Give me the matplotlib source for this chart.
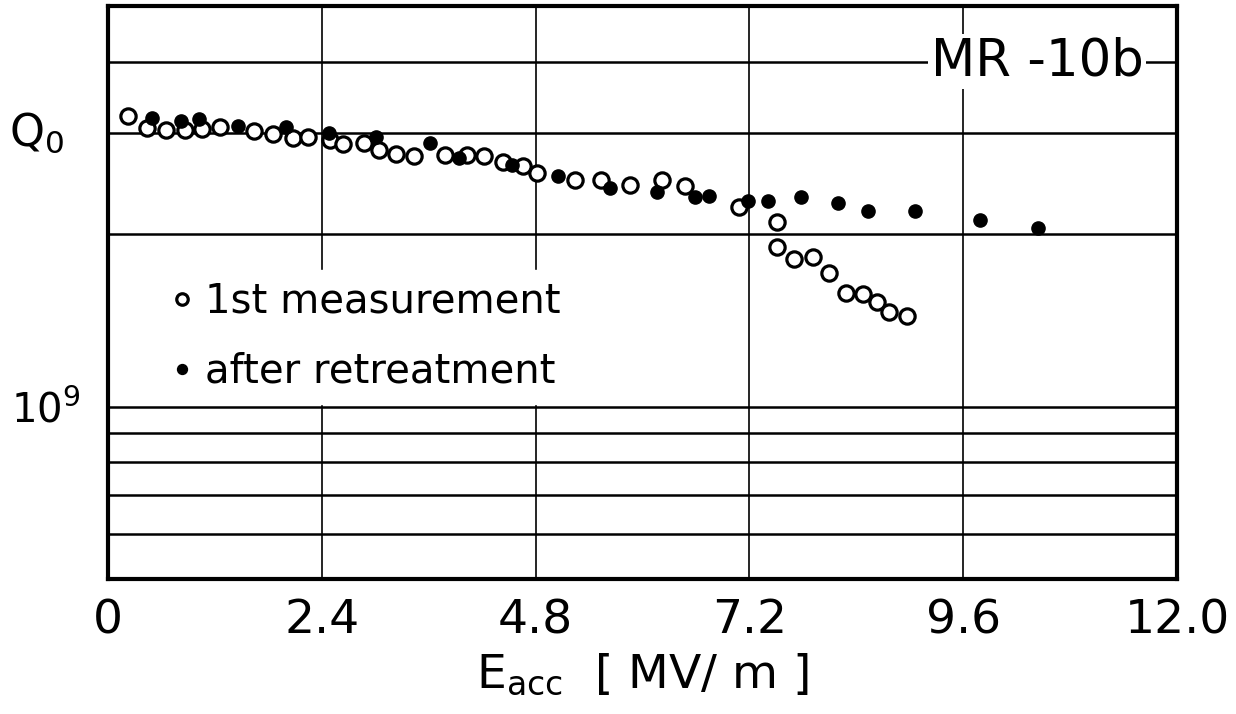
import matplotlib
matplotlib.use("Agg")
import matplotlib.pyplot as plt
import matplotlib.transforms as mtransforms

# ---- data: E_acc [MV/m] and Q0 ----
first_E = [0.22, 0.44, 0.65, 0.86, 1.06, 1.26, 1.64, 1.85, 2.08, 2.25,
           2.49, 2.64, 2.87, 3.04, 3.23, 3.43, 3.78, 4.03, 4.22, 4.43,
           4.66, 4.82, 5.24, 5.53, 5.86, 6.22, 6.48, 7.08, 7.51, 7.51,
           7.70, 7.91, 8.09, 8.28, 8.47, 8.63, 8.77, 8.97]
first_Q = [3.21e9, 3.06e9, 3.04e9, 3.04e9, 3.05e9, 3.07e9, 3.03e9, 2.99e9, 2.94e9, 2.95e9,
           2.92e9, 2.87e9, 2.88e9, 2.80e9, 2.76e9, 2.74e9, 2.75e9, 2.75e9, 2.74e9, 2.67e9,
           2.63e9, 2.56e9, 2.48e9, 2.48e9, 2.44e9, 2.48e9, 2.43e9, 2.23e9, 2.10e9, 1.90e9,
           1.81e9, 1.82e9, 1.71e9, 1.58e9, 1.57e9, 1.52e9, 1.46e9, 1.44e9]

retreat_E = [0.49, 0.82, 1.02, 1.46, 2.00, 2.48, 3.01, 3.61, 3.94, 4.53,
             5.05, 5.64, 6.16, 6.59, 6.75, 7.18, 7.41, 7.78, 8.19, 8.53,
             9.06, 9.79, 10.44]
retreat_Q = [3.19e9, 3.15e9, 3.18e9, 3.09e9, 3.07e9, 3.00e9, 2.95e9, 2.88e9, 2.71e9, 2.64e9,
             2.53e9, 2.41e9, 2.37e9, 2.32e9, 2.33e9, 2.28e9, 2.28e9, 2.32e9, 2.27e9, 2.19e9,
             2.19e9, 2.12e9, 2.05e9]

x_ticks = [0, 2.4, 4.8, 7.2, 9.6, 12.0]
x_labels = ["0", "2.4", "4.8", "7.2", "9.6", "12.0"]
y_grid = [6e8, 7e8, 8e8, 9e8, 1e9, 2e9, 3e9, 4e9]
y_labels = ["", "", "", "", "$10^9$", "", "", ""]

plt.rcParams["font.family"] = ["DejaVu Sans"]
plt.rcParams["mathtext.fontset"] = "dejavusans"

fig = plt.figure(figsize=(12.36, 7.14), dpi=100)
ax = fig.add_axes([108 / 1236, 1 - 579 / 714, (1177 - 108) / 1236, (579 - 6) / 714])

ax.set_yscale("log")
ax.set_xlim(0, 12.0)
ax.set_ylim(5e8, 5e9)
ax.minorticks_off()
ax.set_xticks(x_ticks)
ax.set_xticklabels(x_labels, fontsize=34)
ax.set_yticks(y_grid)
ax.set_yticklabels(y_labels, fontsize=29)
ax.tick_params(length=0, pad=14)
ax.tick_params(axis="y", pad=20)

ax.grid(axis="y", color="black", linewidth=1.8)
ax.grid(axis="x", color="black", linewidth=1.2)
ax.set_axisbelow(True)
for s in ax.spines.values():
    s.set_linewidth(3)

ax.plot(first_E, first_Q, "o", ms=11, mfc="white", mec="black", mew=2.3,
        label="1st measurement", zorder=3)
ax.plot(retreat_E, retreat_Q, "o", ms=9.5, mfc="black", mec="black",
        label="after retreatment", zorder=4)

leg = ax.legend(loc="upper left", bbox_to_anchor=(0.03, 0.575), fontsize=29,
                markerscale=0.75, handlelength=0.5, handletextpad=0.3,
                labelspacing=0.75, borderpad=0.3, frameon=True, fancybox=False)
leg.get_frame().set_edgecolor("white")
leg.get_frame().set_facecolor("white")
leg.get_frame().set_alpha(1)

ax.text(0.869, 4e9, "MR -10b", fontsize=37, ha="center", va="center",
        transform=mtransforms.blended_transform_factory(ax.transAxes, ax.transData),
        bbox=dict(facecolor="white", edgecolor="none", pad=2), zorder=5)

ax.text(37 / 1236, 3e9, "Q$_0$", fontsize=32, ha="center", va="center",
        transform=mtransforms.blended_transform_factory(fig.transFigure, ax.transData))

ax.set_xlabel(r"E$_{\mathrm{acc}}$  [ MV/ m ]", fontsize=34, labelpad=6)

fig.savefig("out.png", dpi=100)
